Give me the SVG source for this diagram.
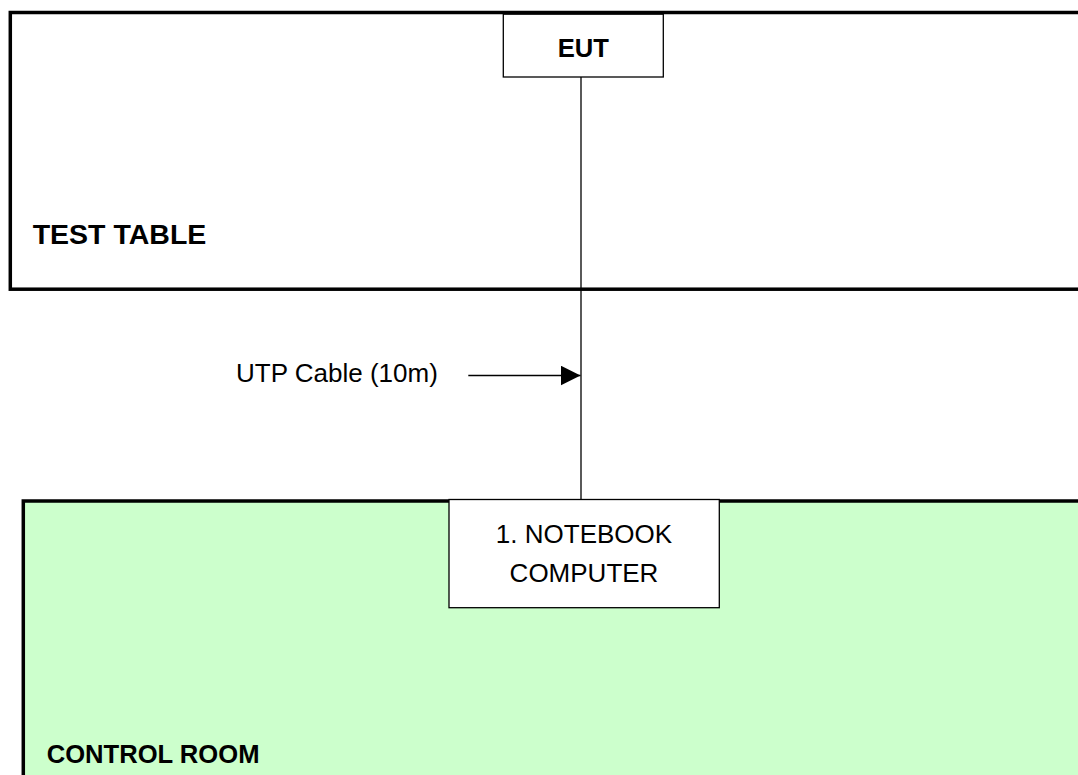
<svg xmlns="http://www.w3.org/2000/svg" width="1078" height="775" viewBox="0 0 1078 775">
  <defs>
    <style>
      .area { stroke: #000; stroke-width: 3.5; }
      .box { fill: #fff; stroke: #000; stroke-width: 1.3; }
      .wire { fill: none; stroke: #000; stroke-width: 1.3; }
      .lbl { font-family: "Liberation Sans", Arial, sans-serif; fill: #000; }
      .bold { font-weight: bold; }
    </style>
    <marker id="arrow" markerWidth="20" markerHeight="20" refX="20" refY="10" orient="auto" markerUnits="userSpaceOnUse">
      <path d="M0,0 L20,10 L0,20 Z" fill="#000"/>
    </marker>
  </defs>
  <rect x="0" y="0" width="1078" height="775" fill="#fff"/>

  <g id="test-table">
    <rect class="area" x="10.3" y="12.5" width="1100" height="276.7" fill="#fff"/>
    <text class="lbl bold" x="32.7" y="244" font-size="28.5">TEST TABLE</text>
  </g>

  <g id="control-room">
    <rect class="area" x="23.3" y="501" width="1100" height="320" fill="#CCFFCC"/>
    <text class="lbl bold" x="46.7" y="763.3" font-size="25.6">CONTROL ROOM</text>
  </g>

  <g id="eut">
    <rect class="box" x="503.3" y="14.2" width="160" height="62.8"/>
    <text class="lbl bold" x="583.3" y="56.7" font-size="25.6" text-anchor="middle">EUT</text>
  </g>

  <g id="notebook">
    <rect class="box" x="449" y="499.5" width="270.3" height="108.2"/>
    <text class="lbl" x="584" y="542.7" font-size="26" text-anchor="middle">1. NOTEBOOK</text>
    <text class="lbl" x="584" y="582.3" font-size="26" text-anchor="middle">COMPUTER</text>
  </g>

  <g id="connectors">
    <line class="wire" x1="581" y1="77" x2="581" y2="499.5"/>
    <line class="wire" x1="468.3" y1="375.5" x2="580.5" y2="375.5" marker-end="url(#arrow)"/>
    <text class="lbl" x="236" y="382.3" font-size="26">UTP Cable (10m)</text>
  </g>
</svg>
